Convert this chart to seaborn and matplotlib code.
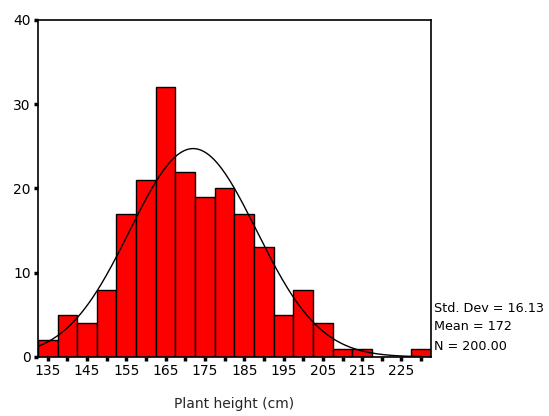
import numpy as np
import pandas as pd
import matplotlib.pyplot as plt
import seaborn as sns

sns.set_theme(style="ticks")
plt.rcParams['font.family'] = ['DejaVu Sans']

# bin centres (cm) and counts
centres = [135, 140, 145, 150, 155, 160, 165, 170, 175, 180,
           185, 190, 195, 200, 205, 210, 215, 220, 225, 230]
counts = [2, 5, 4, 8, 17, 21, 32, 22, 19, 20,
          17, 13, 5, 8, 4, 1, 1, 0, 0, 1]
mean, sd, n = 172, 16.13, 200
width = 5

edges = [c - width / 2 for c in centres] + [centres[-1] + width / 2]
df = pd.DataFrame({'height': centres, 'count': counts})

fig = plt.figure(figsize=(5.49, 4.16), dpi=100)
ax = fig.add_axes([0.069, 0.142, 0.716, 0.810])

sns.histplot(data=df, x='height', weights='count', bins=edges, ax=ax,
             color='#ff0000', edgecolor='black', linewidth=1, alpha=1)

# fitted normal curve
xs = np.linspace(edges[0], edges[-1], 300)
ys = n * width * np.exp(-0.5 * ((xs - mean) / sd) ** 2) / (sd * np.sqrt(2 * np.pi))
ax.plot(xs, ys, color='black', linewidth=1)

ax.set_xlim(edges[0], edges[-1])
ax.set_ylim(0, 40)
ax.set_xticks(centres)
ax.set_xticklabels([str(c) if i % 2 == 0 else '' for i, c in enumerate(centres)])
ax.set_yticks([0, 10, 20, 30, 40])
ax.tick_params(direction='out', length=3, width=2.5, labelsize=10, colors='black', pad=2)
ax.set_xlabel('Plant height (cm)', fontsize=10, labelpad=14)
ax.set_ylabel('')
for s in ax.spines.values():
    s.set_color('black')
    s.set_linewidth(1.2)

stats = [f'Std. Dev = {sd:.2f}', f'Mean = {mean}', f'N = {n:.2f}']
for i, t in enumerate(stats):
    fig.text(434 / 549, 1 - (308 + 19 * i) / 416, t, fontsize=9.2, ha='left', va='center',
             color='black')

plt.savefig('out.png', dpi=100)
plt.close()
